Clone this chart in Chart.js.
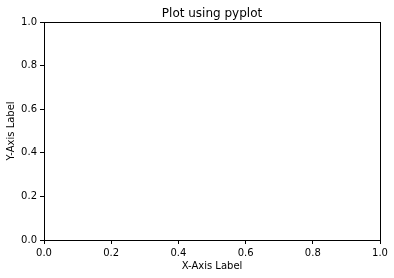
<!DOCTYPE html>
<html>
<head>
<meta charset="utf-8">
<script src="https://cdn.jsdelivr.net/npm/chart.js@4"></script>
<style>
  html, body { margin: 0; padding: 0; background: #fff; }
  #wrap { width: 394px; height: 278px; }
</style>
</head>
<body>
<div id="wrap"><canvas id="plot" width="394" height="278"></canvas></div>
<script>
// data: the plot is empty, only the axes are shown
const points = [];
const xTicks = [0, 0.2, 0.4, 0.6, 0.8, 1.0];
const yTicks = [0, 0.2, 0.4, 0.6, 0.8, 1.0];
const titleText = 'Plot using pyplot';
const xLabel = 'X-Axis Label';
const yLabel = 'Y-Axis Label';

const FONT = "'DejaVu Sans', sans-serif";

// box round the axes plus a title centred over them, like matplotlib
const frame = {
    id: 'frame',
    afterDraw(chart) {
        const { ctx, chartArea: a } = chart;
        ctx.save();
        ctx.strokeStyle = '#000';
        ctx.lineWidth = 1;
        ctx.strokeRect(Math.round(a.left) + 0.5, Math.round(a.top) + 0.5,
            Math.round(a.right - a.left), Math.round(a.bottom - a.top));
        ctx.fillStyle = '#000';
        ctx.font = '12px ' + FONT;
        ctx.textAlign = 'center';
        ctx.textBaseline = 'alphabetic';
        ctx.fillText(titleText, (a.left + a.right) / 2, a.top - 5);
        ctx.restore();
    }
};

const axisCommon = (ticks, label) => ({
    type: 'linear',
    min: 0,
    max: 1,
    afterBuildTicks: (scale) => { scale.ticks = ticks.map(v => ({ value: v })); },
    border: { display: false },
    grid: {
        drawOnChartArea: false,
        drawTicks: true,
        tickLength: 4,
        tickColor: '#000',
        tickWidth: 1
    },
    ticks: {
        color: '#000',
        padding: 3,
        font: { family: FONT, size: 10 },
        maxRotation: 0,
        autoSkip: false,
        callback: (v) => Number(v).toFixed(1)
    },
    title: {
        display: true,
        text: label,
        color: '#000',
        font: { family: FONT, size: 10 },
        padding: { top: 0, bottom: 6 }
    }
});

const xAxis = axisCommon(xTicks, xLabel);
xAxis.position = 'bottom';
xAxis.afterFit = (scale) => { scale.height = 38; };

const yAxis = axisCommon(yTicks, yLabel);
yAxis.position = 'left';
yAxis.title.padding = { top: 5, bottom: 0 };
yAxis.afterFit = (scale) => { scale.width = 44; };

new Chart(document.getElementById('plot'), {
    type: 'scatter',
    data: { datasets: [{ data: points }] },
    options: {
        responsive: false,
        animation: false,
        layout: { padding: { left: 0, right: 14, top: 22, bottom: 0 } },
        plugins: {
            legend: { display: false },
            tooltip: { enabled: false },
            title: { display: false }
        },
        scales: { x: xAxis, y: yAxis }
    },
    plugins: [frame]
});
</script>
</body>
</html>
